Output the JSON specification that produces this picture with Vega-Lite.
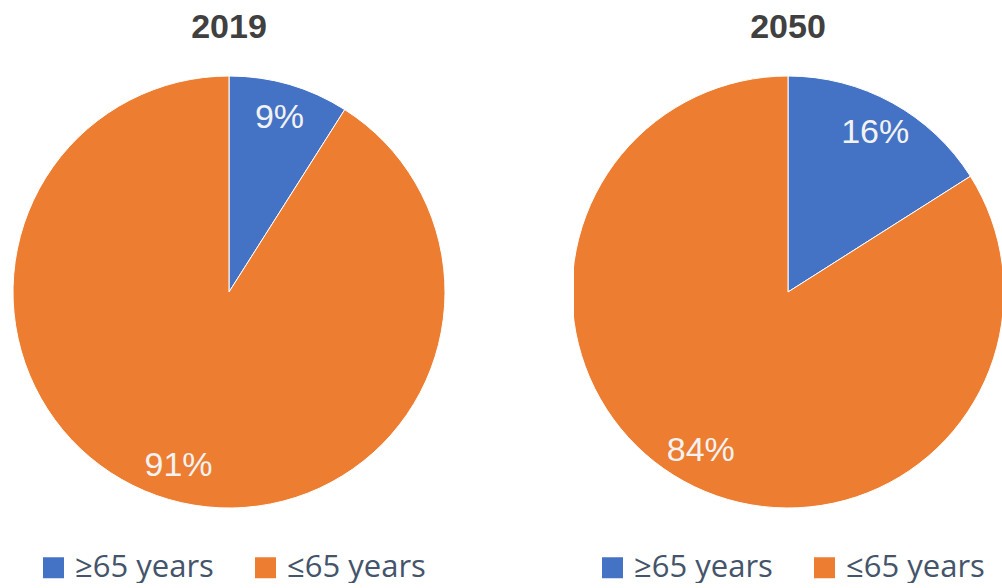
{
  "$schema": "https://vega.github.io/schema/vega-lite/v6.json",
  "autosize": {"type": "pad"},
  "padding": {"left": 0, "top": 11, "right": 0, "bottom": 0},
  "background": "white",
  "config": {
    "view": {"stroke": null},
    "concat": {"spacing": 116},
    "title": {"font": "Liberation Sans", "fontSize": 34, "fontWeight": "bold", "color": "#404040", "offset": 31, "anchor": "middle"},
    "legend": {
      "orient": "none", "direction": "horizontal", "title": null,
      "symbolType": "square", "symbolSize": 441, "symbolStrokeWidth": 0,
      "labelFont": "Open Sans", "labelFontSize": 31, "labelColor": "#44546A", "labelLimit": 0,
      "labelOffset": 6, "columnPadding": 36, "padding": 0
    }
  },
  "resolve": {"legend": {"color": "independent"}},
  "hconcat": [
    {
      "width": 458, "height": 432,
      "title": {"text": "2019"},
      "data": {"values": [
        {"group": "≥65 years", "value": 9, "label": "9%", "o": 1},
        {"group": "≤65 years", "value": 91, "label": "91%", "o": 2}
      ]},
      "encoding": {
        "theta": {"field": "value", "type": "quantitative", "stack": true},
        "order": {"field": "o", "type": "quantitative"}
      },
      "layer": [
        {
          "mark": {"type": "arc", "outerRadius": 216, "stroke": "white", "strokeWidth": 1, "clip": true},
          "encoding": {
            "color": {"field": "group", "type": "nominal", "sort": ["≥65 years", "≤65 years"],
              "scale": {"domain": ["≥65 years", "≤65 years"], "range": ["#4472C4", "#ED7D31"]},
              "legend": {"legendX": 38, "legendY": 476}}
          }
        },
        {
          "mark": {"type": "text", "radius": 181, "font": "Liberation Sans", "fontSize": 34, "color": "#F2F2F2"},
          "encoding": {"text": {"field": "label"}}
        }
      ]
    },
    {
      "width": 428, "height": 432,
      "title": {"text": "2050"},
      "data": {"values": [
        {"group": "≥65 years", "value": 16, "label": "16%", "o": 1},
        {"group": "≤65 years", "value": 84, "label": "84%", "o": 2}
      ]},
      "encoding": {
        "theta": {"field": "value", "type": "quantitative", "stack": true},
        "order": {"field": "o", "type": "quantitative"}
      },
      "layer": [
        {
          "mark": {"type": "arc", "outerRadius": 216, "stroke": "white", "strokeWidth": 1, "clip": true},
          "encoding": {
            "color": {"field": "group", "type": "nominal", "sort": ["≥65 years", "≤65 years"],
              "scale": {"domain": ["≥65 years", "≤65 years"], "range": ["#4472C4", "#ED7D31"]},
              "legend": {"legendX": 23, "legendY": 476}}
          }
        },
        {
          "mark": {"type": "text", "radius": 181, "font": "Liberation Sans", "fontSize": 34, "color": "#F2F2F2"},
          "encoding": {"text": {"field": "label"}}
        }
      ]
    }
  ]
}
